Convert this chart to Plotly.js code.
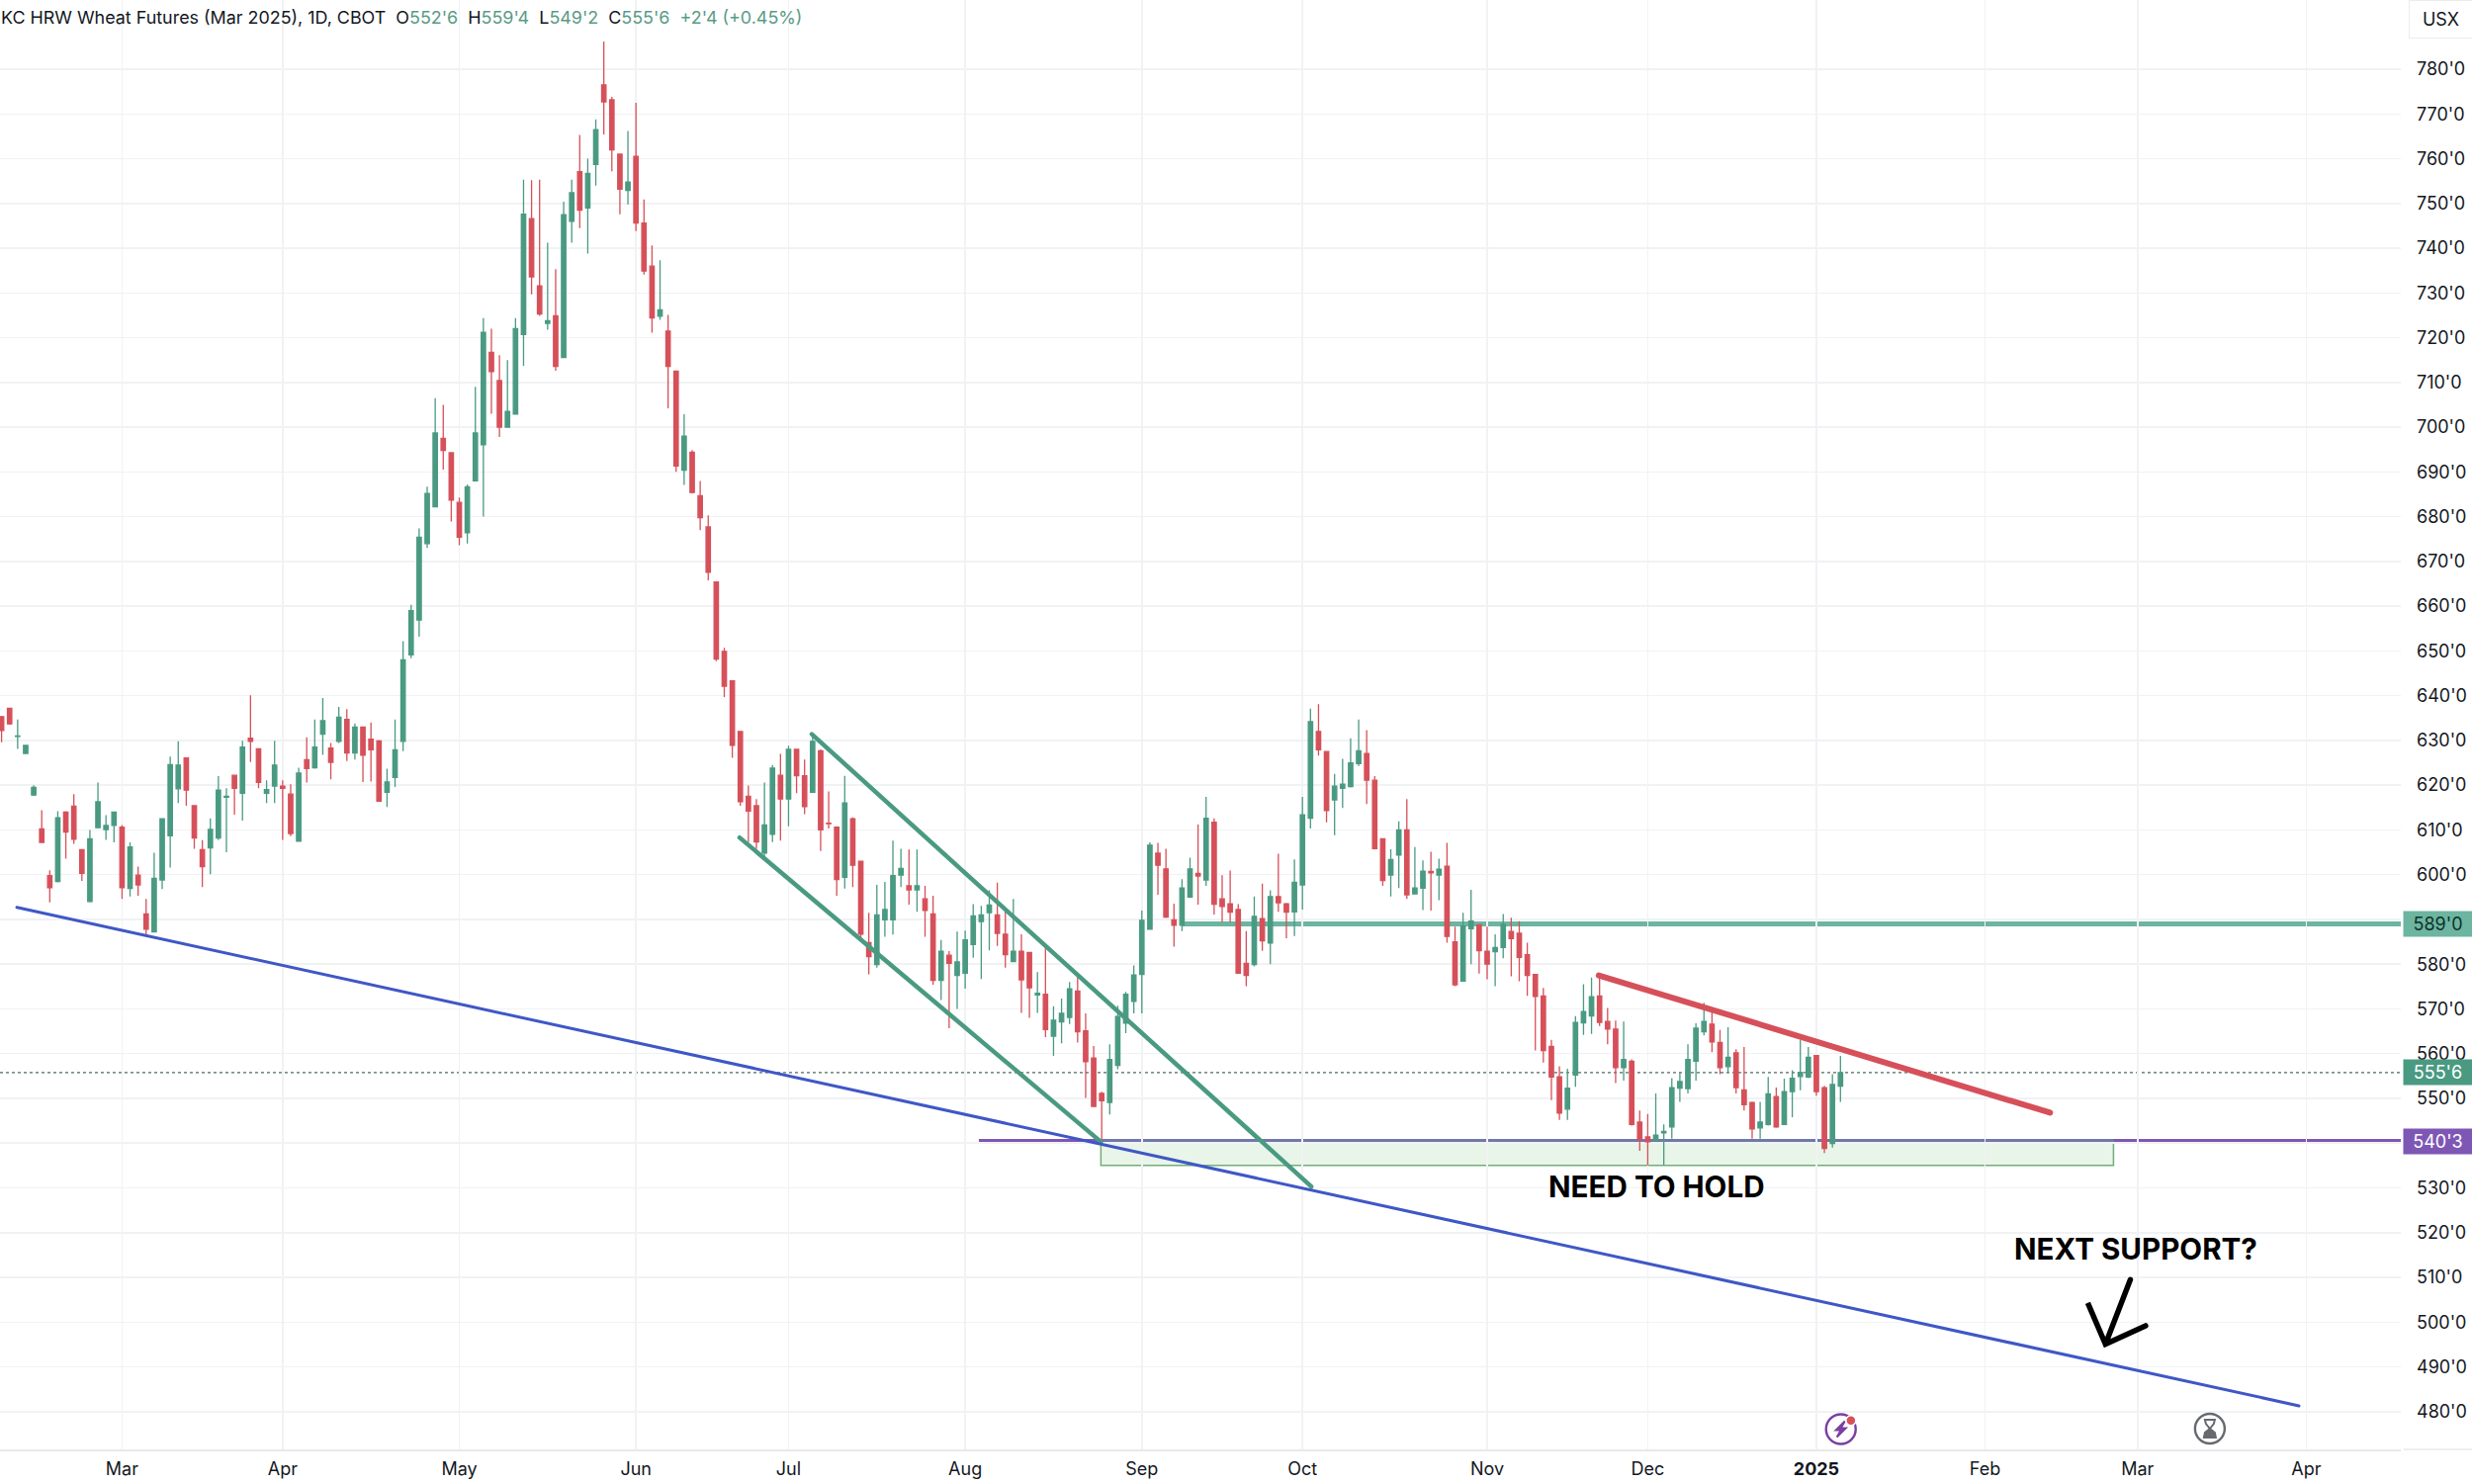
<!DOCTYPE html>
<html>
<head>
<meta charset="utf-8">
<title>KC HRW Wheat Futures</title>
<script src="https://cdn.plot.ly/plotly-3.0.1.min.js"></script>
<style>
  html, body { margin: 0; padding: 0; background: #fff; }
  .scatterlayer .js-line { stroke-linecap: round; }
</style>
</head>
<body>
<div id="chart" style="width:2500px;height:1501px"></div>
<script>
// ── Daily bars (prices in cents, 1 bar = 1 trading day) ──
const opens = [
  635.3,637.2,630.9,627.1,617.8,610.2,599.8,598.5,614.0,615.3,
  605.6,594.0,610.5,610.1,611.0,610.6,596.9,599.9,591.2,587.2,
  598.8,608.7,619.2,626.1,615.4,605.6,606.0,608.2,617.3,622.2,
  618.2,630.5,628.1,618.2,619.8,619.8,618.0,607.5,625.7,623.9,
  631.4,628.3,629.8,634.7,627.2,633.0,630.3,629.9,618.4,621.7,
  629.8,649.1,656.9,674.0,682.2,697.5,694.3,683.2,676.4,688.0,
  696.1,716.7,710.4,700.0,702.9,720.7,746.6,731.6,723.2,724.9,
  715.6,746.0,757.1,749.0,758.7,776.5,773.2,761.0,752.9,760.5,
  745.6,736.0,724.8,721.5,712.5,690.4,694.4,684.7,677.7,665.4,
  649.9,643.3,632.0,617.5,615.4,604.8,609.0,622.2,616.9,628.0,
  622.1,618.4,627.7,611.5,610.6,599.4,612.5,603.0,584.8,579.9,
  589.9,589.9,599.9,597.5,596.6,594.6,591.2,576.4,582.0,577.5,
  578.0,584.4,589.5,591.5,591.0,586.7,580.6,582.9,582.6,573.1,
  573.3,563.9,567.1,568.1,574.0,565.1,559.0,551.1,549.1,557.4,
  566.8,571.7,577.7,587.8,604.8,601.3,589.9,588.7,595.0,600.3,
  598.8,611.7,594.6,593.5,592.2,580.2,579.9,590.2,584.7,595.1,
  593.5,591.7,597.7,612.6,632.0,627.5,616.7,619.3,619.7,624.8,
  627.1,621.1,608.0,599.9,604.4,610.0,595.7,597.0,600.7,599.9,
  601.9,585.0,576.2,587.9,588.8,582.9,582.8,583.7,587.3,586.9,
  582.1,577.7,572.9,561.6,554.8,547.6,555.2,566.9,568.4,572.9,
  567.2,565.5,556.9,558.3,544.7,541.4,540.6,542.3,543.6,552.3,
  552.2,558.3,564.9,566.6,562.5,557.1,560.2,551.9,549.1,543.4,
  544.2,550.4,544.2,551.5,554.9,554.8,559.6,552.4,539.9,552.75
];
const highs = [
  635.5,637.2,634.7,629.0,620.0,614.4,601.0,614.2,614.2,618.0,
  605.6,610.0,620.6,613.3,614.0,611.1,607.2,601.8,594.6,604.9,
  612.5,626.4,629.8,626.2,615.4,607.7,612.6,622.0,619.3,622.2,
  629.9,640.1,628.2,621.1,629.9,621.1,620.2,623.9,630.7,634.7,
  639.5,629.4,637.5,637.0,633.8,633.1,634.0,630.1,623.7,634.7,
  652.2,660.3,677.4,686.7,706.5,705.0,694.3,684.3,687.2,709.0,
  724.4,722.0,716.1,715.0,724.4,755.3,755.2,755.3,741.2,735.3,
  750.4,755.3,765.3,760.0,768.8,786.2,773.8,761.0,766.2,772.5,
  750.9,740.6,737.3,725.1,712.5,702.9,694.9,688.0,680.3,665.4,
  650.7,643.3,632.0,619.9,616.9,620.6,624.5,627.0,628.8,628.0,
  625.7,630.9,628.0,618.6,610.8,622.1,612.8,603.0,591.5,597.7,
  598.4,607.6,605.8,605.6,605.6,597.5,595.3,585.4,582.9,587.3,
  587.5,593.4,593.0,596.5,598.2,592.0,594.6,586.7,582.6,578.2,
  583.6,570.6,572.3,576.0,577.2,569.0,561.7,551.5,562.1,570.7,
  573.8,579.7,592.0,607.2,607.1,605.8,593.5,599.0,603.8,611.2,
  617.4,612.6,599.9,600.9,593.4,587.4,595.1,598.0,596.5,604.7,
  593.7,603.4,617.4,637.1,638.1,627.5,622.5,625.9,630.5,634.7,
  632.3,622.0,608.0,605.7,611.9,616.9,606.2,603.2,605.1,603.6,
  607.1,588.4,591.5,596.6,588.9,588.4,586.7,591.2,590.4,589.6,
  584.8,577.7,574.7,563.1,557.2,556.6,568.4,575.5,577.0,577.1,
  570.2,567.4,567.2,558.7,547.3,546.5,551.1,544.2,554.5,555.7,
  562.1,566.8,571.4,569.4,565.3,565.9,561.0,561.5,549.3,549.2,
  554.8,552.4,554.4,556.3,563.1,561.5,559.6,552.8,555.4,559.5
];
const lows = [
  629.6,633.5,628.1,627.0,617.6,607.1,593.8,598.3,603.6,606.9,
  598.6,593.8,610.5,607.8,607.2,594.6,595.1,595.3,586.3,587.2,
  596.8,601.6,616.0,615.4,605.8,597.2,600.1,607.7,605.0,613.4,
  612.1,625.2,619.3,616.0,616.0,607.8,608.6,607.4,620.6,623.7,
  626.8,621.3,629.4,625.4,625.7,620.7,620.8,616.4,615.1,619.6,
  627.6,648.4,653.2,673.0,682.2,690.5,678.9,673.6,674.0,688.0,
  680.0,703.0,697.8,700.0,702.9,713.7,729.7,724.9,721.8,712.6,
  715.6,741.2,744.5,738.8,754.0,765.4,757.2,747.6,749.8,743.8,
  734.1,721.1,724.0,704.2,690.0,687.1,685.2,677.0,665.8,647.7,
  639.7,626.1,615.4,607.3,605.8,603.8,607.3,607.6,610.8,618.2,
  613.5,618.4,605.3,610.3,595.3,596.9,597.2,585.6,577.7,579.2,
  586.1,586.6,597.2,593.3,591.7,586.1,575.4,572.0,565.7,570.0,
  574.5,581.4,576.7,583.1,584.1,579.2,580.6,569.1,568.0,569.1,
  563.7,559.5,562.3,566.6,562.5,550.1,548.2,540.6,546.4,556.5,
  564.6,569.0,569.0,587.8,595.5,590.3,583.9,587.4,594.8,593.3,
  597.5,591.1,589.4,589.4,578.0,575.1,579.5,583.0,580.0,591.7,
  585.8,586.3,592.2,610.3,626.6,611.7,608.8,614.9,619.5,624.3,
  615.8,605.6,597.5,595.1,597.0,594.6,595.7,592.1,592.0,594.3,
  584.8,575.1,576.2,580.0,577.9,576.6,575.1,581.3,577.3,576.2,
  572.9,560.7,558.0,549.6,545.2,545.2,552.6,564.2,564.4,566.2,
  562.1,553.4,554.0,543.9,538.3,535.1,540.6,535.1,541.0,549.2,
  551.1,554.0,564.1,560.3,555.4,555.7,551.1,547.3,541.0,541.0,
  543.9,543.4,544.2,545.8,551.8,554.5,550.6,537.8,539.0,549.25
];
const closes = [
  632.2,633.7,631.0,628.9,619.5,607.2,597.1,612.7,609.5,607.9,
  600.3,608.0,616.3,611.0,614.0,597.1,606.2,597.7,587.8,599.2,
  612.5,624.6,624.5,618.9,608.2,601.8,610.1,618.9,617.5,619.3,
  628.5,629.8,620.6,619.0,624.5,619.3,609.2,622.7,623.7,628.5,
  634.4,625.1,635.2,627.2,633.0,626.7,627.9,616.4,620.7,627.9,
  648.0,659.0,675.4,685.2,698.7,694.8,683.7,675.4,686.7,698.7,
  721.2,712.4,700.0,703.5,722.0,747.6,733.6,725.3,723.8,713.6,
  747.5,752.4,748.5,756.7,766.5,772.7,762.0,753.2,754.8,745.6,
  734.9,724.4,726.2,713.6,691.3,698.0,685.4,679.8,667.6,648.2,
  642.1,628.9,616.3,614.2,607.3,611.1,623.8,616.9,628.0,622.1,
  615.2,629.8,610.0,611.4,598.9,616.0,602.1,586.7,581.7,591.0,
  592.2,599.8,601.4,596.6,597.5,592.0,576.4,582.9,580.2,580.5,
  585.4,590.8,591.0,593.2,586.9,582.1,582.9,576.5,574.7,573.5,
  565.4,567.5,569.0,574.5,564.9,558.2,548.2,549.5,558.7,568.3,
  573.3,577.6,589.8,606.6,602.1,590.5,588.7,597.0,601.3,599.7,
  612.6,593.4,592.9,591.6,578.0,577.5,590.7,585.2,595.1,593.7,
  591.6,598.3,613.4,634.2,627.9,614.3,619.8,620.2,625.0,627.7,
  621.1,605.8,598.7,603.4,610.0,595.5,597.0,600.8,600.4,601.2,
  586.2,575.4,588.5,589.6,583.0,580.0,583.7,588.9,585.7,581.5,
  577.5,572.8,560.7,554.8,546.7,552.3,567.0,569.4,572.7,567.0,
  565.5,556.9,558.7,544.2,540.8,540.3,541.8,542.6,552.4,553.8,
  558.7,565.7,567.2,562.6,556.9,559.2,552.4,548.6,543.2,544.7,
  551.0,543.6,551.5,554.5,555.8,559.2,551.5,538.8,553.1,555.75
];
const barIndex = opens.map((_, i) => i);

// ── Axes ───────────────────────────────────────────────────────────────────
const monthBars   = [15, 35, 57, 79, 98, 120, 142, 162, 185, 205, 226, 247, 266, 287];
const monthLabels = ['Mar', 'Apr', 'May', 'Jun', 'Jul', 'Aug', 'Sep', 'Oct', 'Nov', 'Dec', '<b>2025</b>', 'Feb', 'Mar', 'Apr'];
const priceTicks  = [480, 490, 500, 510, 520, 530, 540, 550, 560, 570, 580, 590, 600, 610, 620, 630, 640, 650, 660, 670, 680, 690, 700, 710, 720, 730, 740, 750, 760, 770, 780];
const priceLabels = priceTicks.map(p => p + "'0");

// ── Drawings (bar index, price) ────────────────────────────────────────────
const supportX  = [1.9, 286.1],    supportY  = [592.7, 481.3];
const chanTopX  = [100.9, 163.1],  chanTopY  = [631.4, 530.3];
const chanLowX  = [91.9, 136.9],   chanLowY  = [608.3, 540.3];
const resistX   = [198.9, 255.1],  resistY   = [577.5, 546.8];
const arrowX    = [265.1, 262.0, 259.8, 262.0, 267.0];
const arrowY    = [509.5, 495.1, 504.3, 495.1, 499.2];

const level589  = 589, level589Start = 147;
const level540  = 540.375, level540Start = 121.7;
const lastPrice = 555.75;
const boxX      = [136.9, 263.0], boxY = [535.0, 540.375];
const rightEdge = 298.78;

const GREEN = '#4a9a82', RED = '#d6505a', TEAL = '#6cb5a0', PURPLE = '#7e57b5', VALUE = '#5a9b85';
const GRID  = '#f1f2f4', ICON = '#666a70', BOLT = '#7b3fa0';
const FONT  = 'Inter, "Liberation Sans", sans-serif';

function lineTrace(x, y, color, width) {
  return { type: 'scatter', mode: 'lines', x, y, hoverinfo: 'skip', showlegend: false,
           line: { color, width } };
}

const traces = [
  {
    type: 'candlestick',
    x: barIndex, open: opens, high: highs, low: lows, close: closes,
    increasing: { line: { color: GREEN, width: 1.3 }, fillcolor: GREEN },
    decreasing: { line: { color: RED, width: 1.3 }, fillcolor: RED },
    showlegend: false
  },
  lineTrace(chanTopX, chanTopY, GREEN, 4.5),
  lineTrace(chanLowX, chanLowY, GREEN, 4.5),
  lineTrace(supportX, supportY, '#3f57c6', 3),
  lineTrace(resistX, resistY, RED, 6),
  lineTrace(arrowX, arrowY, '#000000', 5.5)
];

function flag(price, text, bg, color) {
  return { xref: 'paper', yref: 'y', x: 2465.5 / 2428, y: price, text,
           xanchor: 'center', yanchor: 'middle', showarrow: false, width: 69, height: 25,
           bgcolor: bg, borderpad: 0, font: { family: FONT, size: 18, color } };
}

function val(s) { return `<span style="color:${VALUE}">${s}</span>`; }

const header = 'KC HRW Wheat Futures (Mar 2025), 1D, CBOT  O' + val("552'6") + '  H' + val("559'4") +
  '  L' + val("549'2") + '  C' + val("555'6") + '  ' + val("+2'4 (+0.45%)");

const annotations = [
  { xref: 'paper', yref: 'paper', x: 0, y: 1, xanchor: 'left', yanchor: 'top', yshift: -5, xshift: -1,
    showarrow: false, text: header, font: { family: FONT, size: 17.9, color: '#131722' } },
  { xref: 'paper', yref: 'paper', x: 2468 / 2428, y: 1, xanchor: 'center', yanchor: 'top', showarrow: false,
    text: 'USX', width: 63, height: 37, bordercolor: '#ececec', borderwidth: 1, borderpad: 0,
    font: { family: FONT, size: 18, color: '#131722' } },
  { x: 206.1, y: 530.3, text: '<b>NEED TO HOLD</b>', showarrow: false,
    font: { family: FONT, size: 29.6, color: '#000' } },
  { x: 265.8, y: 516.5, text: '<b>NEXT SUPPORT?</b>', showarrow: false,
    font: { family: FONT, size: 29.6, color: '#000' } },
  flag(level589, "589'0", TEAL, '#10302a'),
  flag(lastPrice, "555'6", GREEN, '#ffffff'),
  flag(level540, "540'3", PURPLE, '#ffffff')
];

// small status icons under the bars, sized in pixels around an anchor
const boltAt  = [229.05, 476.1];
const glassAt = [275.0, 476.2];
const dotAt   = [230.3, 478.0];

function ring(at, color) {
  return { type: 'circle', xsizemode: 'pixel', ysizemode: 'pixel', xanchor: at[0], yanchor: at[1],
           x0: -15, x1: 15, y0: -15, y1: 15, line: { color, width: 2.4 }, fillcolor: 'rgba(255,255,255,0)' };
}

function glyph(at, path, fill, stroke) {
  return { type: 'path', xsizemode: 'pixel', ysizemode: 'pixel', xanchor: at[0], yanchor: at[1], path,
           fillcolor: fill, line: { color: stroke, width: 2 } };
}

const shapes = [
  { type: 'line', layer: 'below', x0: level589Start, x1: rightEdge, y0: level589, y1: level589, line: { color: TEAL, width: 5 } },
  { type: 'line', layer: 'below', x0: level540Start, x1: rightEdge, y0: level540, y1: level540, line: { color: PURPLE, width: 5 } },
  { type: 'rect', layer: 'below', x0: boxX[0], x1: boxX[1], y0: boxY[0], y1: boxY[1],
    fillcolor: 'rgba(76,175,80,0.13)', line: { color: 'rgba(90,160,100,0.85)', width: 1.5 } },
  // where the box sits on the purple line the two colours mix
  { type: 'line', layer: 'below', x0: boxX[0], x1: boxX[1], y0: level540, y1: level540, line: { color: '#7079a8', width: 5 } },
  { type: 'line', layer: 'below', x0: -0.2, x1: rightEdge, y0: lastPrice, y1: lastPrice, line: { color: '#4d6a60', width: 1.2, dash: 'dot' } },
  { type: 'line', xref: 'paper', yref: 'paper', x0: 2431 / 2428, x1: 2500 / 2428, y0: 0, y1: 0, line: { color: '#e8e9eb', width: 1.5 } },
  ring(boltAt, BOLT),
  glyph(boltAt, 'M 4 8 L -5 -1 L 0 -1 L -4 -8 L 5 1 L 0 1 Z', BOLT, BOLT),
  { type: 'circle', xsizemode: 'pixel', ysizemode: 'pixel', xanchor: dotAt[0], yanchor: dotAt[1],
    x0: -5, x1: 5, y0: -5, y1: 5, fillcolor: RED, line: { color: '#ffffff', width: 1.5 } },
  ring(glassAt, ICON),
  glyph(glassAt, 'M -5 9 L 5 9 L 4 5 L 0 0 L -4 5 Z', '#ffffff', ICON),
  glyph(glassAt, 'M -6 -9 L 6 -9 L 5 -4 L 0 0 L -5 -4 Z', ICON, ICON)
];

const layout = {
  width: 2500,
  height: 1501,
  margin: { l: 0, r: 72, t: 0, b: 35, pad: 0 },
  paper_bgcolor: '#ffffff',
  plot_bgcolor: '#ffffff',
  font: { family: FONT, size: 18, color: '#131722' },
  showlegend: false,
  boxgap: 0.46,
  boxgroupgap: 0,
  xaxis: {
    type: 'linear',
    range: [-0.197, rightEdge],
    rangeslider: { visible: false },
    tickmode: 'array',
    tickvals: monthBars,
    ticktext: monthLabels,
    ticks: '',
    ticklabelstandoff: 3,
    showgrid: true,
    gridcolor: GRID,
    gridwidth: 1.5,
    zeroline: false,
    showline: true,
    linecolor: '#e8e9eb',
    linewidth: 1.5,
    tickfont: { family: FONT, size: 18, color: '#131722' }
  },
  yaxis: {
    side: 'right',
    range: [471.56, 795.47],
    tickmode: 'array',
    tickvals: priceTicks,
    ticktext: priceLabels,
    ticks: '',
    ticklabelstandoff: 15,
    showgrid: true,
    gridcolor: GRID,
    gridwidth: 1.5,
    zeroline: false,
    showline: false,
    tickfont: { family: FONT, size: 18, color: '#131722' }
  },
  shapes,
  annotations
};

Plotly.newPlot('chart', traces, layout, { displayModeBar: false, staticPlot: true });
</script>
</body>
</html>
